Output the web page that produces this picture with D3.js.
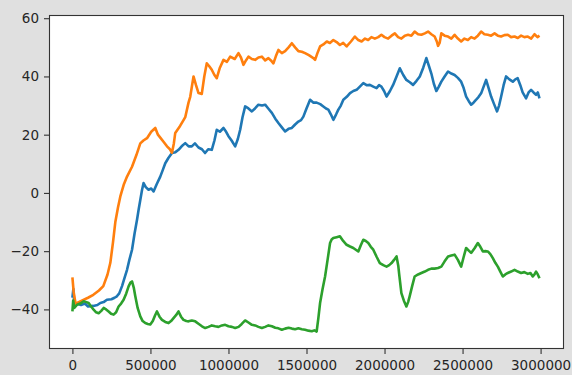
<!DOCTYPE html>
<html>
<head>
<meta charset="utf-8">
<script src="https://cdn.jsdelivr.net/npm/d3@7/dist/d3.min.js"></script>
<style>
  body { margin: 0; background: #e0e0e0; }
  svg { display: block; }
  .tick text { font-family: "DejaVu Sans", sans-serif; font-size: 13.5px; fill: #262626; }
</style>
</head>
<body>
<div class="container"></div>
<script>
// readings from the picture: [step, reward]
const orange = [
  [0,-29],[8000,-34],[20000,-38],[60000,-37],[100000,-36],[134000,-35],[170000,-33.5],[198000,-32],
  [225000,-28],[243000,-24],[260000,-17],[275000,-10],[292000,-5],[307000,-1.2],[330000,3],[350000,5.6],
  [382000,9],[410000,13],[435000,17],[455000,18],[478000,18.8],[505000,21],[531000,22.3],[548000,20],
  [563000,19],[585000,17.5],[606000,16],[625000,15],[638000,13.8],[650000,17],[659000,20.6],[690000,23],
  [712000,25],[723000,26],[744000,31],[755000,33],[776000,40],[792000,37],[808000,34.3],[829000,34],
  [845000,40],[861000,44.5],[877000,43.5],[893000,42.3],[910000,40.5],[925000,39.4],[945000,43],[968000,45.7],
  [990000,45],[1011000,46.8],[1040000,46],[1064000,48],[1080000,46.5],[1096000,44],[1112000,45.5],[1128000,46.8],
  [1150000,46],[1171000,45.7],[1192000,46.5],[1214000,46.8],[1235000,45.5],[1256000,46.3],[1272000,45.5],[1288000,44.5],
  [1304000,47],[1320000,49.1],[1342000,48],[1363000,48.7],[1385000,50],[1406000,51.4],[1427000,50],[1448000,48.7],
  [1470000,48.5],[1491000,48],[1515000,47.3],[1544000,46.3],[1555000,45.7],[1570000,48],[1587000,50.3],[1608000,51],
  [1630000,52],[1650000,51.5],[1672000,52.5],[1693000,51.8],[1714000,50.8],[1735000,51.5],[1757000,50.3],[1785000,52],
  [1810000,53.7],[1832000,52.5],[1853000,52],[1875000,53],[1895000,52.5],[1916000,53.5],[1938000,53],[1960000,53.5],
  [1980000,54.3],[2000000,53.5],[2023000,53],[2045000,54],[2066000,54.8],[2087000,53.5],[2108000,53],[2130000,54],
  [2151000,54.3],[2172000,54],[2193000,55.4],[2215000,54.5],[2236000,54.3],[2258000,54.8],[2279000,55.4],[2300000,54.5],
  [2321000,53.7],[2335000,52],[2343000,50.5],[2353000,51.5],[2364000,54.8],[2385000,54],[2407000,53.7],[2428000,53],
  [2449000,54.3],[2470000,53],[2491000,52],[2512000,53],[2534000,52.5],[2555000,53.5],[2577000,53],[2598000,54],
  [2619000,55.4],[2640000,54.5],[2662000,54.3],[2683000,54],[2705000,54.8],[2726000,54],[2747000,53.7],[2768000,54.2],
  [2790000,54.3],[2811000,53.5],[2833000,53.7],[2854000,53.2],[2875000,54],[2896000,53.5],[2918000,53.7],[2940000,53],
  [2961000,54.5],[2980000,53.5],[2993000,54]
];
const blue = [
  [0,-36],[6000,-33],[12000,-38],[30000,-38],[55000,-38.5],[80000,-38],[100000,-39],[134000,-38.8],
  [160000,-38.5],[179000,-37.8],[200000,-37.5],[221000,-36.7],[250000,-36.5],[270000,-36],[285000,-35.5],[300000,-34.5],
  [318000,-32],[335000,-29],[350000,-26.4],[365000,-23],[382000,-19.5],[398000,-14],[414000,-9.2],[425000,-5.5],
  [435000,-2.4],[446000,1],[456000,3.4],[470000,2],[488000,1.1],[505000,1.5],[520000,0.5],[540000,3],
  [563000,5.6],[580000,8],[595000,10.2],[615000,12],[638000,13.7],[660000,14],[680000,14.8],[700000,16],
  [723000,17.1],[745000,16],[765000,16],[785000,17],[808000,15.6],[830000,15],[850000,13.7],[870000,15],
  [893000,14.8],[910000,18],[925000,21.7],[945000,21],[968000,22.3],[985000,21],[1000000,19.5],[1020000,18],
  [1043000,16],[1060000,18.5],[1075000,21.7],[1090000,26],[1107000,29.7],[1128000,29],[1150000,28],[1170000,29],
  [1192000,30.3],[1215000,30],[1235000,30.3],[1255000,29],[1278000,27.5],[1300000,25.5],[1320000,24],[1342000,22.5],
  [1363000,21.1],[1385000,22],[1406000,22.3],[1427000,23.5],[1448000,24.5],[1465000,25],[1480000,26.2],[1500000,29],
  [1523000,32],[1545000,31],[1565000,31],[1588000,30.5],[1608000,29.7],[1625000,29],[1640000,28.6],[1656000,27],
  [1672000,25.1],[1690000,27],[1704000,28.6],[1720000,30],[1736000,32],[1758000,33],[1779000,34.3],[1800000,35],
  [1821000,35.4],[1842000,36.5],[1864000,37.7],[1885000,37],[1906000,37.1],[1928000,36.5],[1949000,36],[1965000,37],
  [1980000,36.5],[1997000,35],[2013000,33.1],[2035000,35],[2055000,37.1],[2077000,40],[2098000,42.8],[2120000,40.5],
  [2140000,38.8],[2162000,38],[2183000,37.1],[2205000,38.5],[2226000,40],[2248000,43],[2268000,46.3],[2285000,43.5],
  [2300000,41],[2316000,37.5],[2332000,35],[2348000,36.5],[2364000,38.2],[2385000,40],[2407000,41.7],[2428000,41],
  [2449000,40.5],[2470000,39.5],[2491000,38.2],[2507000,36],[2523000,33.1],[2540000,31.5],[2555000,30.3],[2570000,31],
  [2587000,32],[2603000,33],[2619000,34.2],[2635000,36.5],[2651000,38.8],[2667000,36],[2683000,33.1],[2702000,30.5],
  [2721000,28],[2734000,30],[2747000,33],[2763000,37],[2779000,40],[2800000,39],[2822000,38.2],[2838000,39],
  [2853000,39.4],[2870000,37],[2885000,34.5],[2896000,33.5],[2907000,32.5],[2923000,34.5],[2939000,35.4],[2955000,34.5],
  [2971000,33.7],[2982000,34.5],[2993000,32.5]
];
const green = [
  [0,-40.7],[5000,-37],[12000,-39.5],[30000,-38.4],[50000,-38],[72000,-37.2],[90000,-37.5],[104000,-37.8],
  [120000,-39],[136000,-40.1],[152000,-41],[168000,-41.3],[185000,-40.5],[200000,-39.5],[216000,-40],[232000,-40.7],
  [248000,-41.5],[264000,-41.8],[280000,-41],[296000,-39],[312000,-38],[328000,-36.7],[345000,-34.5],[360000,-32.1],
  [372000,-30.8],[382000,-30.4],[393000,-32.5],[403000,-35.5],[418000,-39.5],[435000,-42.4],[450000,-44],[467000,-44.7],
  [483000,-45],[499000,-45.2],[515000,-44],[530000,-42],[542000,-40.7],[558000,-42.5],[574000,-43.6],[595000,-44.3],
  [616000,-44.7],[632000,-44],[648000,-43],[664000,-42],[680000,-40.7],[696000,-42.5],[712000,-43.6],[730000,-44],
  [744000,-44.1],[765000,-43.8],[787000,-44.1],[810000,-45],[830000,-45.8],[851000,-46.4],[872000,-46],[893000,-45.5],
  [915000,-45.8],[936000,-46],[958000,-45.5],[979000,-45.3],[1000000,-45.8],[1022000,-46],[1043000,-46.4],[1065000,-46],
  [1085000,-45],[1107000,-43.8],[1128000,-44.5],[1150000,-45.3],[1171000,-45.5],[1192000,-46],[1214000,-46.4],[1235000,-46],
  [1256000,-45.5],[1278000,-45.8],[1300000,-46.3],[1320000,-46.5],[1342000,-47],[1363000,-46.6],[1385000,-46.3],[1406000,-46.6],
  [1427000,-46.8],[1448000,-46.5],[1470000,-46.8],[1491000,-47],[1512000,-47.3],[1534000,-47.5],[1550000,-47.2],[1565000,-47.6],
  [1576000,-43],[1587000,-37.8],[1603000,-33],[1619000,-28.7],[1635000,-23],[1651000,-17.2],[1661000,-16],[1672000,-15.5],
  [1693000,-15.2],[1714000,-14.9],[1735000,-16.5],[1757000,-17.8],[1779000,-18.4],[1800000,-18.9],[1816000,-19.5],[1832000,-20.1],
  [1848000,-18],[1864000,-16.1],[1880000,-16.5],[1896000,-17.2],[1912000,-18.5],[1928000,-19.5],[1950000,-22],[1970000,-24.1],
  [1992000,-24.8],[2013000,-25.3],[2030000,-24.8],[2045000,-24.1],[2061000,-23],[2077000,-21.8],[2088000,-25],[2094000,-28],
  [2108000,-34.4],[2124000,-37],[2140000,-39],[2151000,-37.5],[2161000,-35.5],[2177000,-32],[2193000,-28.7],[2215000,-28],
  [2236000,-27.5],[2258000,-27],[2279000,-26.4],[2300000,-26],[2321000,-26],[2343000,-25.8],[2364000,-25.3],[2385000,-23.5],
  [2407000,-21.8],[2428000,-21.5],[2449000,-21.2],[2470000,-23],[2491000,-25.3],[2507000,-22],[2523000,-18.9],[2540000,-19.8],
  [2555000,-20.6],[2577000,-19],[2598000,-17.2],[2614000,-18.5],[2630000,-20.1],[2646000,-20],[2662000,-20.1],[2678000,-21],
  [2694000,-22.4],[2710000,-24],[2726000,-25.3],[2742000,-27],[2758000,-28.7],[2774000,-28],[2790000,-27.5],[2811000,-27],
  [2833000,-26.4],[2854000,-27],[2875000,-27.5],[2896000,-27.2],[2918000,-27.8],[2935000,-27.5],[2950000,-28.7],[2961000,-28],
  [2971000,-27],[2982000,-28],[2993000,-29.3]
];
const series = [
  { name: 'blue', data: blue, color: '#1f77b4' },
  { name: 'orange', data: orange, color: '#ff7f0e' },
  { name: 'green', data: green, color: '#2ca02c' }
];
const xTicks = [0, 500000, 1000000, 1500000, 2000000, 2500000, 3000000];
const yTicks = [-40, -20, 0, 20, 40, 60];

const W = 572, H = 375;
const margin = { left: 49, right: 8, top: 15, bottom: 26 };

const svg = d3.select('.container')
  .append('svg')
  .attr('width', W)
  .attr('height', H);

svg.append('rect')
  .attr('width', W).attr('height', H)
  .attr('fill', '#e0e0e0');

// domains padded by 5% like matplotlib
const x = d3.scaleLinear()
  .domain([-150000, 3150000])
  .range([margin.left, W - margin.right]);
const y = d3.scaleLinear()
  .domain([-53.6, 61.1])
  .range([H - margin.bottom, margin.top]);

svg.append('rect')
  .attr('x', margin.left).attr('y', margin.top)
  .attr('width', W - margin.left - margin.right)
  .attr('height', H - margin.top - margin.bottom)
  .attr('fill', '#fff');

const line = d3.line()
  .x(d => x(d[0]))
  .y(d => y(d[1]));

const plot = svg.append('g');
series.forEach(s => {
  plot.append('path')
    .attr('d', line(s.data))
    .attr('fill', 'none')
    .attr('stroke', s.color)
    .attr('stroke-width', 2.6)
    .attr('stroke-linejoin', 'round');
});

// frame
svg.append('rect')
  .attr('x', margin.left + 0.5).attr('y', margin.top + 0.5)
  .attr('width', W - margin.left - margin.right - 1)
  .attr('height', H - margin.top - margin.bottom - 1)
  .attr('fill', 'none')
  .attr('stroke', '#333')
  .attr('stroke-width', 1.1);

const xAxis = svg.append('g')
  .attr('transform', `translate(0,${H - margin.bottom})`)
  .call(d3.axisBottom(x).tickValues(xTicks).tickFormat(d3.format('d')).tickSize(5).tickPadding(6));
const yAxis = svg.append('g')
  .attr('transform', `translate(${margin.left},0)`)
  .call(d3.axisLeft(y).tickValues(yTicks).tickFormat(d => d < 0 ? '\u2212' + Math.abs(d) : d).tickSize(5).tickPadding(5));

[xAxis, yAxis].forEach(a => {
  a.select('.domain').remove();
  a.selectAll('.tick line').attr('stroke', '#333').attr('stroke-width', 1.1);
});
</script>
</body>
</html>
